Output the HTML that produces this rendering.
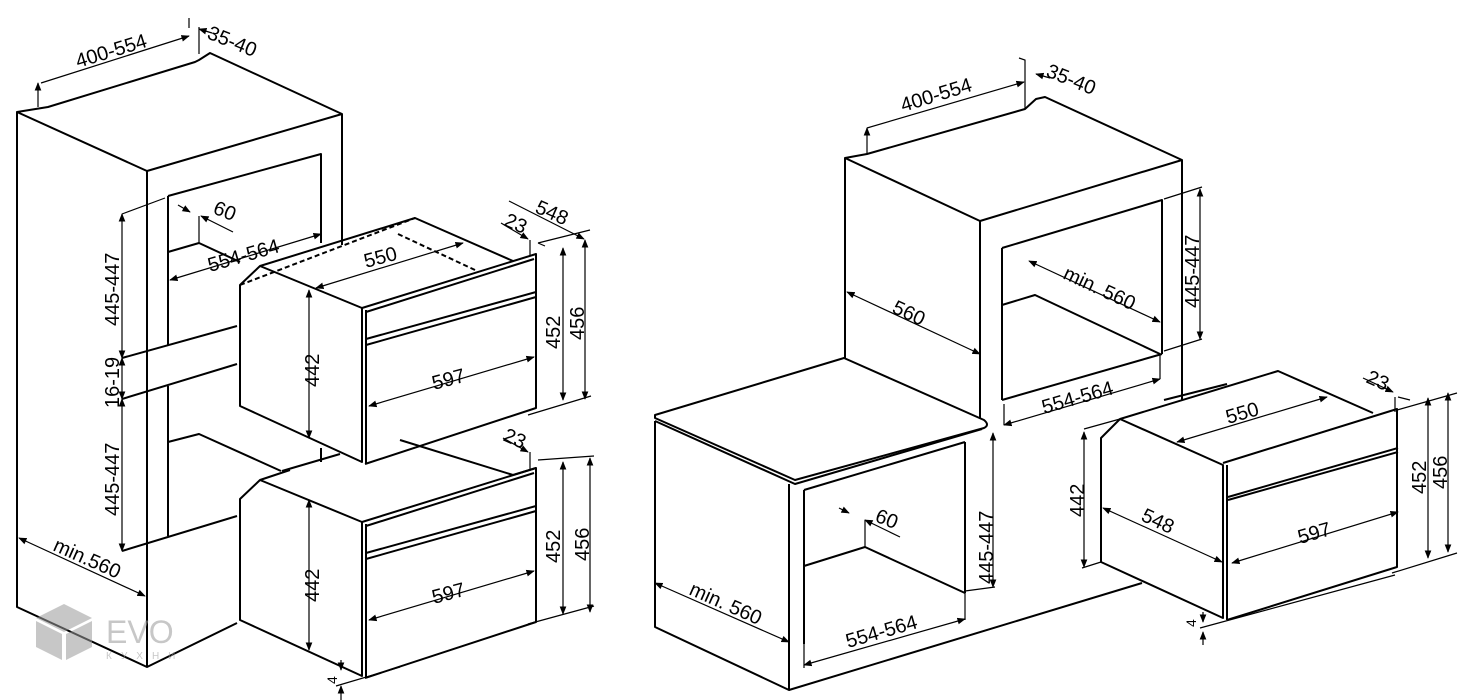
<!DOCTYPE html>
<html><head><meta charset="utf-8"><style>
html,body{margin:0;padding:0;background:#fff;}
svg{display:block;}
text{font-family:"Liberation Sans",sans-serif;font-size:20px;fill:#000;}
</style></head><body>
<svg width="1466" height="700" viewBox="0 0 1466 700" xmlns="http://www.w3.org/2000/svg">
<defs>
<marker id="a" viewBox="0 0 10 10" refX="9" refY="5" markerWidth="7" markerHeight="7" orient="auto-start-reverse"><path d="M0,1 L10,5 L0,9 z" fill="#000"/></marker>
</defs>
<g stroke="#000" stroke-width="2" fill="none" stroke-linejoin="round">
<path d="M17,112 L48,107 L195,62 L199,60 L210,53 L342,114 L147,171 L17,112 Z"/>
<path d="M17,112 V607 L147,667 L237,623"/>
<path d="M147,171 V667"/>
<path d="M342,114 V245"/>
<path d="M168,196 L321,154 V243 M168,196 V346 M168,252 L199,243 L240,262"/>
<path d="M122,358 L237,326 M122,399 L237,364 M168,386 V536 M168,442 L199,434 L281,471 M122,551 L237,516 M321,448 V462"/>
<path d="M240,285 L260,266 L362,308 L362,462 L240,406 Z"/>
<path d="M260,266 L415,218 L513,261"/>
<path d="M362,308 L536,254 V408 L365,464 M366,310 V464 M366,312 L534,259 M366,339 L536,292 M366,345 L536,297"/>
<path d="M240,285 L415,218 M398,234 L475,270" stroke-dasharray="5,3"/>
<path d="M240,499 L260,480 L362,522 L362,676 L240,620 Z"/>
<path d="M260,480 L290,470 M400,440 L513,475 L536,468"/>
<path d="M362,522 L536,468 V622 L365,678 M366,524 V678 M366,526 L534,473 M366,553 L536,506 M366,559 L536,511"/>
<path d="M282,471 L340,454"/>
</g>
<g stroke="#000" stroke-width="1.2" fill="none">
<path d="M38,83 V107 M41,83 L189,36" marker-start="url(#a)" marker-end="url(#a)"/>
<path d="M189,18 L189,28 M199,27 V54"/>
<path d="M212,33 L199,29" marker-end="url(#a)"/>
<path d="M122,214 V358" marker-start="url(#a)" marker-end="url(#a)"/>
<path d="M122,358 V399" marker-start="url(#a)" marker-end="url(#a)"/>
<path d="M122,399 V551" marker-start="url(#a)" marker-end="url(#a)"/>
<path d="M122,214 L165,198"/>
<path d="M170,280 L321,234" marker-start="url(#a)" marker-end="url(#a)"/>
<path d="M178,205 L190,212" marker-end="url(#a)"/>
<path d="M233,232 L201,216" marker-end="url(#a)"/><path d="M199,216 V243"/>
<path d="M19,538 L145,596" marker-start="url(#a)" marker-end="url(#a)"/>
<path d="M309,290 V438" marker-start="url(#a)" marker-end="url(#a)"/>
<path d="M369,406 L534,357" marker-start="url(#a)" marker-end="url(#a)"/>
<path d="M316,288 L463,243" marker-start="url(#a)" marker-end="url(#a)"/>
<path d="M563,248 V400" marker-start="url(#a)" marker-end="url(#a)"/>
<path d="M585,240 V399" marker-start="url(#a)" marker-end="url(#a)"/>
<path d="M528,415 L591,396 M538,243 L590,230"/>
<path d="M509,201 L584,239" marker-end="url(#a)"/>
<path d="M501,223 L528,239" marker-end="url(#a)"/><path d="M530,240 V256 M545,246 L538,243"/>
<path d="M309,500 V650" marker-start="url(#a)" marker-end="url(#a)"/>
<path d="M369,620 L534,571" marker-start="url(#a)" marker-end="url(#a)"/>
<path d="M563,462 V614" marker-start="url(#a)" marker-end="url(#a)"/>
<path d="M590,458 V612" marker-start="url(#a)" marker-end="url(#a)"/>
<path d="M528,624 L594,606 M538,460 L594,456"/>
<path d="M503,438 L528,452" marker-end="url(#a)"/><path d="M530,452 V470"/>
<path d="M341,660 V670" marker-end="url(#a)"/><path d="M341,700 V686" marker-end="url(#a)"/>
<path d="M336,686 L400,667"/>
</g>
<g>
<text transform="translate(78,68) rotate(-17)">400-554</text>
<text transform="translate(206,38) rotate(22)">35-40</text>
<text transform="translate(119,326) rotate(-90)">445-447</text>
<text transform="translate(119,408) rotate(-90)">16-19</text>
<text transform="translate(119,516) rotate(-90)">445-447</text>
<text transform="translate(212,213) rotate(22)">60</text>
<text transform="translate(210,272) rotate(-16)">554-564</text>
<text transform="translate(52,550) rotate(24)">min.560</text>
<text transform="translate(366,268) rotate(-15)">550</text>
<text transform="translate(319,387) rotate(-90)">442</text>
<text transform="translate(434,390) rotate(-15)">597</text>
<text transform="translate(560,349) rotate(-90)">452</text>
<text transform="translate(584,340) rotate(-90)">456</text>
<text transform="translate(534,212) rotate(24)">548</text>
<text transform="translate(503,225) rotate(24)">23</text>
<text transform="translate(319,602) rotate(-90)">442</text>
<text transform="translate(434,604) rotate(-15)">597</text>
<text transform="translate(560,563) rotate(-90)">452</text>
<text transform="translate(589,561) rotate(-90)">456</text>
<text transform="translate(502,440) rotate(24)">23</text>
<text transform="translate(337,684) rotate(-90)" style="font-size:14px">4</text>
</g>

<g stroke="#000" stroke-width="2" fill="none" stroke-linejoin="round">
<path d="M845,158 L867,154 L1025,109 L1036,99 L1045,97 L1182,160 L980,221 Z"/>
<path d="M845,158 V358 M980,221 V419 M1182,160 V400"/>
<path d="M1002,400 L1162,354 M1002,248 L1162,200 V354 M1002,248 V400 M1002,305 L1035,295 L1160,354"/>
<path d="M655,415 L844,358 L984,420 Q990,425 984,428 L795,480 L655,418 Z"/>
<path d="M655,421 L795,484 L982,429"/>
<path d="M655,421 V627 L789,690 V484"/>
<path d="M789,690 L1142,583"/>
<path d="M965,442 V593 M804,490 L965,442 M804,490 V644 M804,566 L865,547 L965,593"/>
<path d="M1164,400 L1227,384"/>
<path d="M1120,419 L1101,438 V562 L1223,618 V465 L1120,419 Z"/>
<path d="M1120,419 L1278,371 L1373,413"/>
<path d="M1223,463 L1397,409 V567 L1227,620 M1227,465 V620 M1228,497 L1398,448 M1228,500 L1398,452"/>
</g>
<g stroke="#000" stroke-width="1.2" fill="none">
<path d="M867,128 V154 M867,128 L1024,82" marker-start="url(#a)" marker-end="url(#a)"/>
<path d="M1019,58 L1025,60 V109"/>
<path d="M1050,78 L1036,74" marker-end="url(#a)"/>
<path d="M847,292 L980,354" marker-start="url(#a)" marker-end="url(#a)"/>
<path d="M1029,261 L1160,322" marker-start="url(#a)" marker-end="url(#a)"/>
<path d="M1200,189 V339" marker-start="url(#a)" marker-end="url(#a)"/>
<path d="M1164,199 L1202,187 M1164,351 L1202,339"/>
<path d="M1004,425 L1160,379" marker-start="url(#a)" marker-end="url(#a)"/><path d="M1004,404 V425 M1160,354 V379"/>
<path d="M839,508 L849,513" marker-end="url(#a)"/>
<path d="M900,537 L865,520" marker-end="url(#a)"/><path d="M865,520 V547"/>
<path d="M993,433 V587" marker-start="url(#a)" marker-end="url(#a)"/>
<path d="M965,591 L995,587"/>
<path d="M655,583 L789,642" marker-start="url(#a)" marker-end="url(#a)"/>
<path d="M804,665 L965,619" marker-start="url(#a)" marker-end="url(#a)"/><path d="M804,644 V668 M965,593 V620"/>
<path d="M1177,442 L1327,397" marker-start="url(#a)" marker-end="url(#a)"/>
<path d="M1103,508 L1222,562" marker-start="url(#a)" marker-end="url(#a)"/>
<path d="M1232,563 L1398,512" marker-start="url(#a)" marker-end="url(#a)"/>
<path d="M1084,432 V567" marker-start="url(#a)" marker-end="url(#a)"/>
<path d="M1084,429 L1120,419 M1082,568 L1101,562"/>
<path d="M1428,398 V558" marker-start="url(#a)" marker-end="url(#a)"/>
<path d="M1448,393 V552" marker-start="url(#a)" marker-end="url(#a)"/>
<path d="M1397,410 L1457,393 M1392,573 L1457,553"/>
<path d="M1363,378 L1393,392" marker-end="url(#a)"/><path d="M1395,397 V412 M1410,400 L1398,397"/>
<path d="M1203,612 V622" marker-end="url(#a)"/><path d="M1203,645 V632" marker-end="url(#a)"/>
<path d="M1200,628 L1395,575"/>
</g>
<g>
<text transform="translate(903,112) rotate(-17)">400-554</text>
<text transform="translate(1045,76) rotate(22)">35-40</text>
<text transform="translate(891,312) rotate(25)">560</text>
<text transform="translate(1062,278) rotate(25)">min. 560</text>
<text transform="translate(1199,308) rotate(-90)">445-447</text>
<text transform="translate(1044,414) rotate(-16)">554-564</text>
<text transform="translate(874,521) rotate(22)">60</text>
<text transform="translate(993,584) rotate(-90)">445-447</text>
<text transform="translate(688,594) rotate(24)">min. 560</text>
<text transform="translate(848,648) rotate(-16)">554-564</text>
<text transform="translate(1228,424) rotate(-16)">550</text>
<text transform="translate(1140,520) rotate(25)">548</text>
<text transform="translate(1300,544) rotate(-16)">597</text>
<text transform="translate(1084,517) rotate(-90)">442</text>
<text transform="translate(1426,494) rotate(-90)">452</text>
<text transform="translate(1447,489) rotate(-90)">456</text>
<text transform="translate(1365,382) rotate(24)">23</text>
<text transform="translate(1196,627) rotate(-90)" style="font-size:14px">4</text>
</g>
<g opacity="0.55" fill="#9a9a9a">
<polygon points="36,618 64,604 92,618 64,632"/>
<polygon points="36,621 62,634 62,660 36,647"/>
<polygon points="66,634 92,621 92,647 66,660"/>
<text x="106" y="643" style="font-size:32px;fill:#9a9a9a">EVO</text>
<text x="106" y="659" style="font-size:10px;fill:#9a9a9a;letter-spacing:9px">КУХНИ</text>
</g>
</svg>
</body></html>
